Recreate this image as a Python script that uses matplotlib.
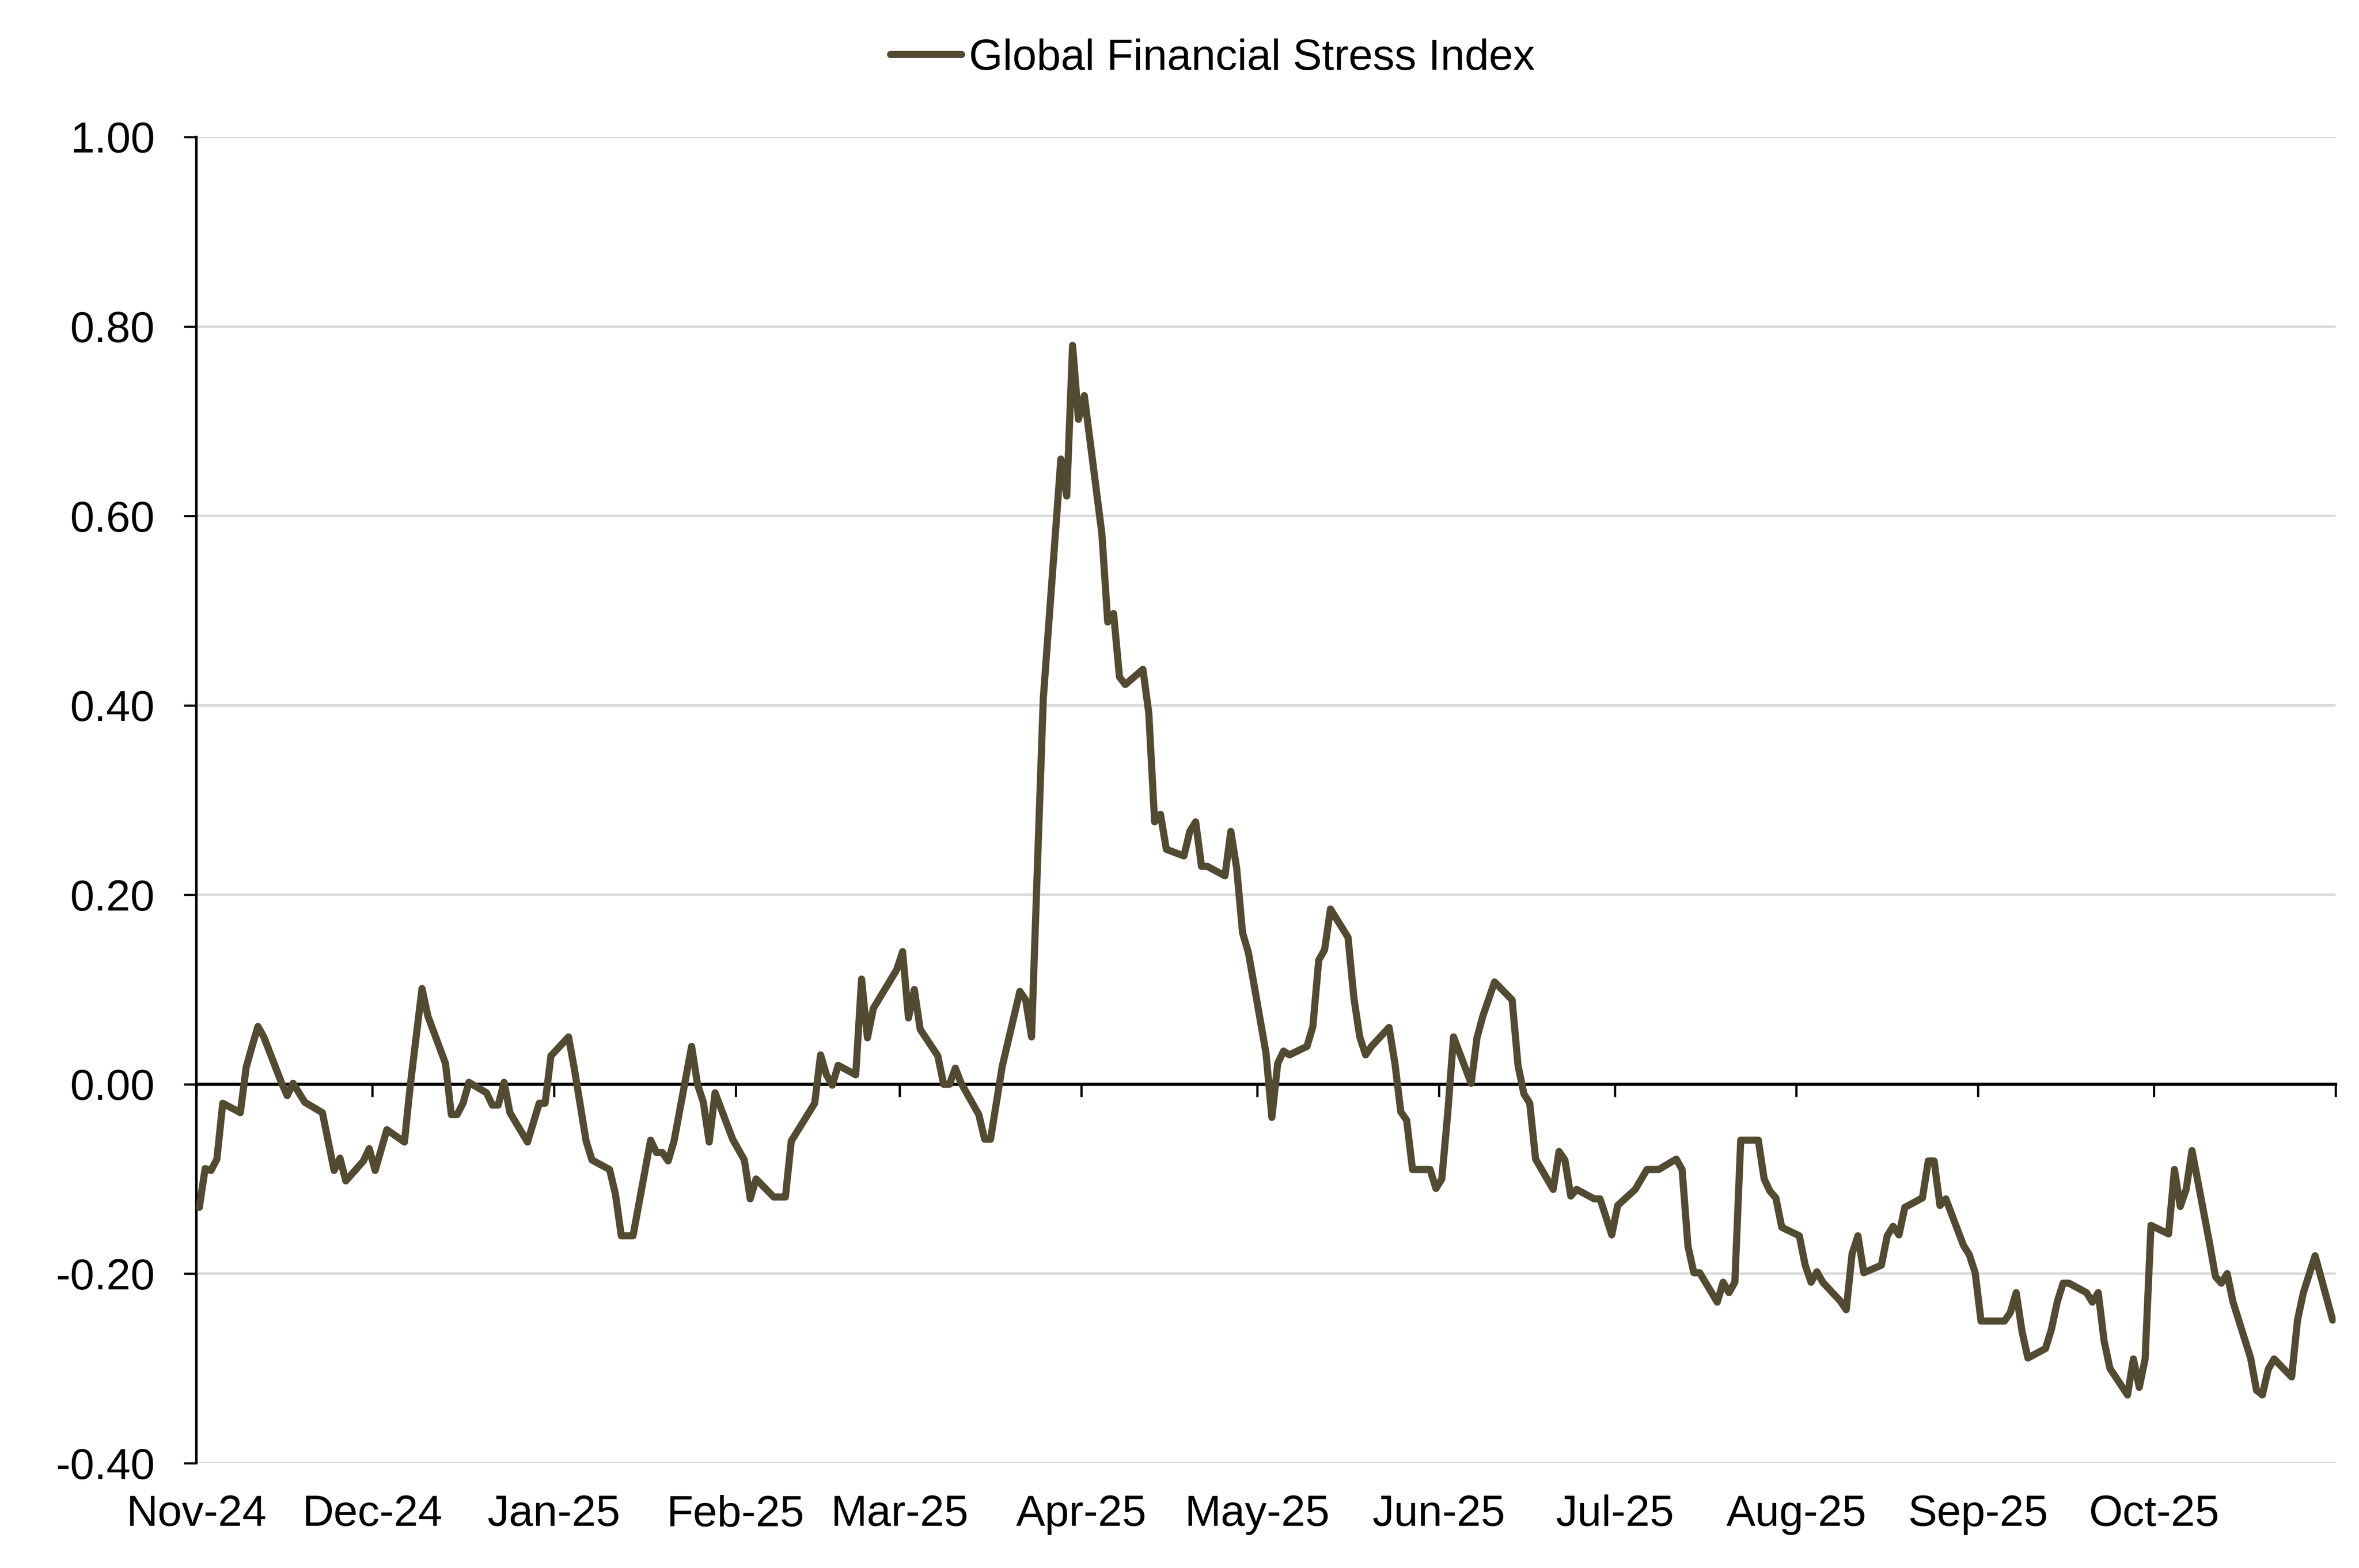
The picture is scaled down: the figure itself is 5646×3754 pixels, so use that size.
import matplotlib
matplotlib.use("Agg")
import matplotlib.pyplot as plt
import matplotlib.dates as mdates
from matplotlib.ticker import FixedLocator, FormatStrFormatter
import pandas as pd

plt.rcParams['font.family'] = ['Liberation Sans', 'DejaVu Sans']
plt.rcParams['axes.unicode_minus'] = False

series_name = "Global Financial Stress Index"

dates = [
    "2024-11-01", "2024-11-02", "2024-11-03", "2024-11-04", "2024-11-05", "2024-11-08", "2024-11-09",
    "2024-11-10", "2024-11-11", "2024-11-12", "2024-11-15", "2024-11-16", "2024-11-17", "2024-11-19",
    "2024-11-22", "2024-11-24", "2024-11-25", "2024-11-26", "2024-11-29", "2024-11-30", "2024-12-01",
    "2024-12-03", "2024-12-06", "2024-12-07", "2024-12-09", "2024-12-10", "2024-12-13", "2024-12-14",
    "2024-12-15", "2024-12-16", "2024-12-17", "2024-12-20", "2024-12-21", "2024-12-22", "2024-12-23",
    "2024-12-24", "2024-12-27", "2024-12-29", "2024-12-30", "2024-12-31", "2025-01-03", "2025-01-04",
    "2025-01-06", "2025-01-07", "2025-01-10", "2025-01-11", "2025-01-12", "2025-01-14", "2025-01-17",
    "2025-01-18", "2025-01-19", "2025-01-20", "2025-01-21", "2025-01-24", "2025-01-25", "2025-01-26",
    "2025-01-27", "2025-01-28", "2025-01-31", "2025-02-02", "2025-02-03", "2025-02-04", "2025-02-07",
    "2025-02-09", "2025-02-10", "2025-02-14", "2025-02-15", "2025-02-16", "2025-02-17", "2025-02-18",
    "2025-02-21", "2025-02-22", "2025-02-23", "2025-02-24", "2025-02-28", "2025-03-01", "2025-03-02",
    "2025-03-03", "2025-03-04", "2025-03-07", "2025-03-08", "2025-03-09", "2025-03-10", "2025-03-11",
    "2025-03-14", "2025-03-15", "2025-03-16", "2025-03-18", "2025-03-21", "2025-03-22", "2025-03-23",
    "2025-03-24", "2025-03-25", "2025-03-28", "2025-03-29", "2025-03-30", "2025-03-31", "2025-04-01",
    "2025-04-04", "2025-04-05", "2025-04-06", "2025-04-07", "2025-04-08", "2025-04-11", "2025-04-12",
    "2025-04-13", "2025-04-14", "2025-04-15", "2025-04-18", "2025-04-19", "2025-04-20", "2025-04-21",
    "2025-04-22", "2025-04-25", "2025-04-26", "2025-04-27", "2025-04-28", "2025-04-29", "2025-05-02",
    "2025-05-03", "2025-05-04", "2025-05-05", "2025-05-06", "2025-05-09", "2025-05-10", "2025-05-11",
    "2025-05-12", "2025-05-13", "2025-05-16", "2025-05-17", "2025-05-18", "2025-05-19", "2025-05-20",
    "2025-05-23", "2025-05-24", "2025-05-25", "2025-05-26", "2025-05-27", "2025-05-30", "2025-05-31",
    "2025-06-01", "2025-06-02", "2025-06-03", "2025-06-06", "2025-06-07", "2025-06-08", "2025-06-10",
    "2025-06-13", "2025-06-14", "2025-06-15", "2025-06-16", "2025-06-17", "2025-06-20", "2025-06-21",
    "2025-06-22", "2025-06-23", "2025-06-24", "2025-06-27", "2025-06-28", "2025-06-30", "2025-07-01",
    "2025-07-04", "2025-07-06", "2025-07-08", "2025-07-11", "2025-07-12", "2025-07-13", "2025-07-14",
    "2025-07-15", "2025-07-18", "2025-07-19", "2025-07-20", "2025-07-21", "2025-07-22", "2025-07-25",
    "2025-07-26", "2025-07-27", "2025-07-28", "2025-07-29", "2025-08-01", "2025-08-02", "2025-08-03",
    "2025-08-04", "2025-08-05", "2025-08-08", "2025-08-09", "2025-08-10", "2025-08-11", "2025-08-12",
    "2025-08-15", "2025-08-16", "2025-08-17", "2025-08-18", "2025-08-19", "2025-08-22", "2025-08-23",
    "2025-08-24", "2025-08-25", "2025-08-26", "2025-08-29", "2025-08-30", "2025-08-31", "2025-09-01",
    "2025-09-05", "2025-09-06", "2025-09-07", "2025-09-08", "2025-09-09", "2025-09-12", "2025-09-13",
    "2025-09-14", "2025-09-15", "2025-09-16", "2025-09-19", "2025-09-20", "2025-09-21", "2025-09-22",
    "2025-09-23", "2025-09-26", "2025-09-27", "2025-09-28", "2025-09-29", "2025-09-30", "2025-10-03",
    "2025-10-04", "2025-10-05", "2025-10-06", "2025-10-07", "2025-10-10", "2025-10-11", "2025-10-12",
    "2025-10-13", "2025-10-14", "2025-10-17", "2025-10-18", "2025-10-19", "2025-10-20", "2025-10-21",
    "2025-10-24", "2025-10-25", "2025-10-26", "2025-10-28", "2025-10-31",
]

values = [
    -0.130, -0.089, -0.091, -0.079, -0.020, -0.030, 0.018,
    0.040, 0.061, 0.050, 0.002, -0.012, 0.001, -0.019,
    -0.030, -0.091, -0.078, -0.102, -0.081, -0.068, -0.091,
    -0.048, -0.061, -0.001, 0.101, 0.072, 0.022, -0.032,
    -0.032, -0.020, 0.002, -0.009, -0.022, -0.022, 0.002,
    -0.030, -0.061, -0.020, -0.020, 0.030, 0.050, 0.016,
    -0.060, -0.080, -0.090, -0.116, -0.160, -0.160, -0.059,
    -0.072, -0.072, -0.081, -0.060, 0.040, 0.000, -0.019,
    -0.061, -0.009, -0.058, -0.080, -0.121, -0.100, -0.119,
    -0.119, -0.060, -0.020, 0.031, 0.010, -0.001, 0.020,
    0.010, 0.111, 0.049, 0.080, 0.121, 0.140, 0.070,
    0.100, 0.058, 0.030, 0.000, 0.000, 0.017, 0.001,
    -0.032, -0.058, -0.058, 0.019, 0.098, 0.089, 0.050,
    0.230, 0.407, 0.660, 0.621, 0.780, 0.702, 0.727,
    0.581, 0.488, 0.497, 0.430, 0.422, 0.438, 0.392,
    0.277, 0.285, 0.248, 0.241, 0.267, 0.277, 0.230,
    0.230, 0.220, 0.267, 0.228, 0.160, 0.139, 0.033,
    -0.035, 0.022, 0.035, 0.031, 0.040, 0.061, 0.131,
    0.142, 0.185, 0.155, 0.091, 0.050, 0.031, 0.040,
    0.060, 0.022, -0.029, -0.038, -0.090, -0.090, -0.110,
    -0.100, -0.031, 0.050, 0.001, 0.049, 0.072, 0.108,
    0.089, 0.020, -0.010, -0.020, -0.079, -0.111, -0.071,
    -0.080, -0.118, -0.111, -0.121, -0.121, -0.159, -0.128,
    -0.111, -0.090, -0.090, -0.079, -0.090, -0.171, -0.199,
    -0.199, -0.230, -0.209, -0.220, -0.209, -0.059, -0.059,
    -0.100, -0.113, -0.120, -0.151, -0.160, -0.191, -0.209,
    -0.198, -0.209, -0.229, -0.238, -0.179, -0.160, -0.199,
    -0.191, -0.160, -0.150, -0.159, -0.130, -0.120, -0.081,
    -0.081, -0.128, -0.121, -0.170, -0.180, -0.199, -0.250,
    -0.250, -0.241, -0.220, -0.261, -0.289, -0.279, -0.259,
    -0.230, -0.210, -0.210, -0.220, -0.230, -0.220, -0.271,
    -0.300, -0.328, -0.290, -0.320, -0.290, -0.149, -0.158,
    -0.090, -0.129, -0.111, -0.070, -0.168, -0.203, -0.210,
    -0.200, -0.230, -0.289, -0.323, -0.328, -0.301, -0.290,
    -0.309, -0.249, -0.220, -0.181, -0.249,
]

month_starts = ["2024-11-01", "2024-12-01", "2025-01-01", "2025-02-01", "2025-03-01",
                "2025-04-01", "2025-05-01", "2025-06-01", "2025-07-01", "2025-08-01",
                "2025-09-01", "2025-10-01", "2025-11-01"]
month_labels = ["Nov-24", "Dec-24", "Jan-25", "Feb-25", "Mar-25", "Apr-25",
                "May-25", "Jun-25", "Jul-25", "Aug-25", "Sep-25", "Oct-25"]
y_ticks = [-0.4, -0.2, 0.0, 0.2, 0.4, 0.6, 0.8, 1.0]

LINE_COLOR = "#534A32"
FS = 25

W, H, DPI = 5646, 3754, 300
fig = plt.figure(figsize=(W / DPI, H / DPI), dpi=DPI)
fig.patch.set_facecolor("white")
ax = fig.add_axes([470 / W, 1 - 3503 / H, (5590 - 470) / W, (3503 - 328) / H])

# Excel date axis places each day's point in the middle of its day slot
x = mdates.date2num(pd.to_datetime(dates)) + 0.5
ms = mdates.date2num(pd.to_datetime(month_starts))

ax.plot(x, values, color=LINE_COLOR, lw=4.1, solid_joinstyle="round",
        solid_capstyle="round", zorder=4, label=series_name)

ax.set_xlim(ms[0], ms[-1])
ax.set_ylim(-0.4, 1.0)

# y axis
ax.yaxis.set_major_locator(FixedLocator(y_ticks))
ax.yaxis.set_major_formatter(FormatStrFormatter("%.2f"))
ax.tick_params(axis="y", direction="out", length=7.3, width=1.3, color="black",
               labelsize=FS, pad=16.5)
ax.yaxis.grid(True, color="#D9D9D9", lw=1.4)
ax.set_axisbelow(True)

# x axis drawn at zero
ax.spines["top"].set_visible(False)
ax.spines["right"].set_visible(False)
ax.spines["left"].set_linewidth(1.4)
ax.spines["left"].set_color("black")
ax.spines["bottom"].set_position(("data", 0))
ax.spines["bottom"].set_linewidth(1.8)
ax.spines["bottom"].set_color("black")
ax.spines["bottom"].set_zorder(3)
ax.xaxis.set_major_locator(FixedLocator(ms))
ax.tick_params(axis="x", direction="out", length=7.3, width=1.3, color="black",
               labelbottom=False)

# month labels at the bottom of the plot area
sec = ax.secondary_xaxis("bottom")
sec.xaxis.set_major_locator(FixedLocator(ms[:-1]))
sec.set_xticklabels(month_labels)
sec.tick_params(axis="x", length=0, labelsize=FS, pad=18)
for s in sec.spines.values():
    s.set_visible(False)

fig.legend(loc="center", bbox_to_anchor=(0.514, 0.9627), frameon=False,
           fontsize=FS, handlelength=1.63, handletextpad=0.17,
           borderpad=0, borderaxespad=0)

fig.savefig("out.png", dpi=DPI, facecolor="white")
